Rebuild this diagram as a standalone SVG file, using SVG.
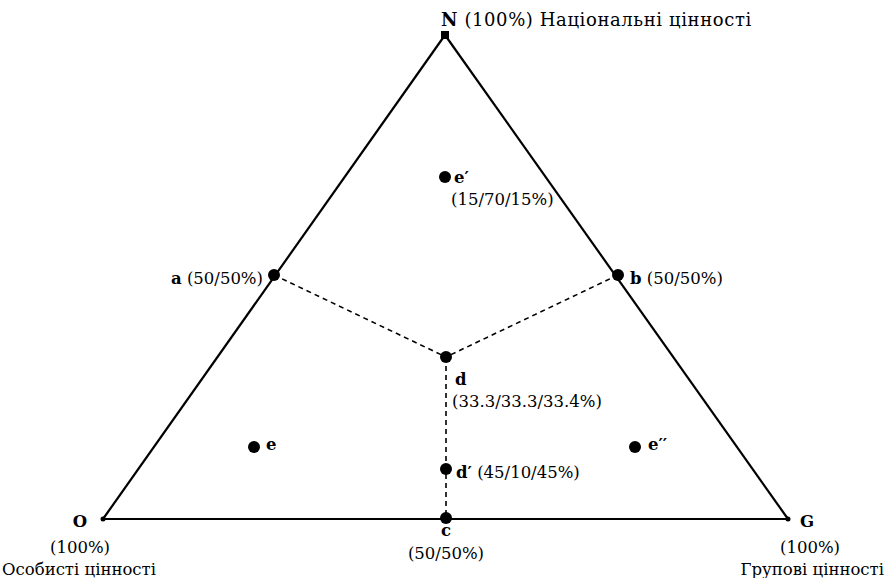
<svg xmlns="http://www.w3.org/2000/svg" width="885" height="578" viewBox="0 0 885 578">
<style>
text{font-family:"DejaVu Serif","Liberation Serif",serif;font-size:16.5px;fill:#000}
.b{font-weight:bold}
.top{font-size:18px;letter-spacing:0.6px}
.edge{stroke:#000;stroke-width:2.2;fill:none}
.dash{stroke:#000;stroke-width:1.6;stroke-dasharray:5,4;fill:none}
.pt{fill:#000}
</style>
<rect width="885" height="578" fill="#fff"/>
<g id="connectors">
<line class="edge" x1="445" y1="35" x2="103" y2="519"/>
<line class="edge" x1="445" y1="35" x2="788" y2="519"/>
<line class="edge" x1="103" y1="519" x2="788" y2="519" stroke-width="3"/>
<line class="dash" x1="274" y1="275" x2="446" y2="357"/>
<line class="dash" x1="618" y1="275" x2="446" y2="357"/>
<line class="dash" x1="446" y1="357" x2="446" y2="518"/>
</g>
<g id="N"><rect x="441" y="31" width="8" height="8" class="pt"/><text x="441" y="26" class="top"><tspan class="b">N</tspan> (100%) Національні цінності</text></g>
<g id="O"><circle cx="103" cy="519" r="2.5" class="pt"/><text x="80" y="527" text-anchor="middle" class="b">O</text><text x="80" y="553" text-anchor="middle">(100%)</text><text x="2" y="575">Особисті цінності</text></g>
<g id="G"><circle cx="788" cy="519" r="2.5" class="pt"/><text x="807" y="527" text-anchor="middle" class="b">G</text><text x="810" y="553" text-anchor="middle">(100%)</text><text x="884" y="575" text-anchor="end">Групові цінності</text></g>
<g id="a"><circle cx="274" cy="275" r="6" class="pt"/><text x="263" y="284" text-anchor="end"><tspan class="b">a</tspan> (50/50%)</text></g>
<g id="b"><circle cx="618" cy="275" r="6" class="pt"/><text x="630" y="284"><tspan class="b">b</tspan> (50/50%)</text></g>
<g id="d"><circle cx="446" cy="357" r="6" class="pt"/><text x="455" y="385" class="b">d</text><text x="452" y="407">(33.3/33.3/33.4%)</text></g>
<g id="d2"><circle cx="446" cy="469" r="6" class="pt"/><text x="456" y="478"><tspan class="b">d′</tspan> (45/10/45%)</text></g>
<g id="c"><circle cx="446" cy="518" r="6" class="pt"/><text x="446" y="536" text-anchor="middle" class="b">c</text><text x="446" y="559" text-anchor="middle">(50/50%)</text></g>
<g id="e"><circle cx="254" cy="447" r="6" class="pt"/><text x="266" y="450" class="b">e</text></g>
<g id="e1"><circle cx="445" cy="177" r="6" class="pt"/><text x="454" y="183" class="b">e′</text><text x="451" y="205">(15/70/15%)</text></g>
<g id="e2"><circle cx="635" cy="447" r="6" class="pt"/><text x="648" y="450" class="b">e′′</text></g>
</svg>
